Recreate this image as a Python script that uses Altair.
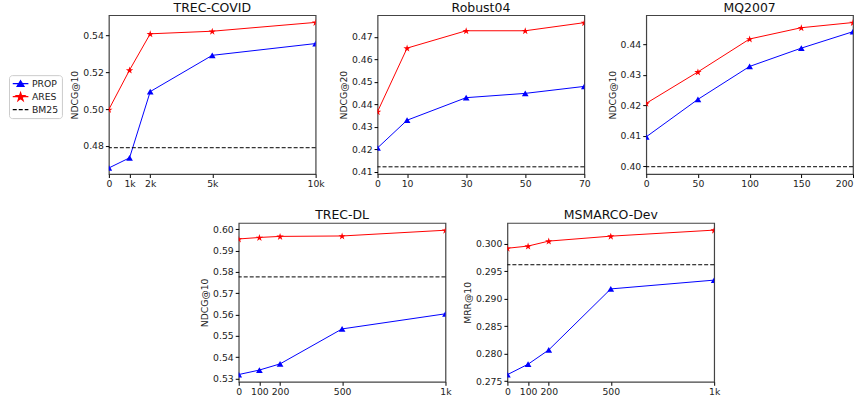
import math
import altair as alt
import pandas as pd

FONT = "DejaVu Sans"
TXT = "#222222"

series_names = ["PROP", "ARES"]
legend_names = ["PROP", "ARES", "BM25"]
series_colors = ["#0000ff", "#ff0000"]
legend_colors = ["#0000ff", "#ff0000", "#000000"]

# ---- TREC-COVID ----
covid_x = [0, 1000, 2000, 5000, 10000]
covid_xlabels = ["0", "1k", "2k", "5k", "10k"]
covid_prop = [0.4680, 0.4735, 0.5095, 0.5292, 0.5356]
covid_ares = [0.4998, 0.5212, 0.5409, 0.5423, 0.5471]
covid_bm25 = 0.4790
covid_yticks = [0.48, 0.50, 0.52, 0.54]
covid_ydomain = [0.4647, 0.5510]

# ---- Robust04 ----
robust_x = [0, 10, 30, 50, 70]
robust_xlabels = ["0", "10", "30", "50", "70"]
robust_prop = [0.4207, 0.4330, 0.4430, 0.4449, 0.4480]
robust_ares = [0.4368, 0.4650, 0.4727, 0.4727, 0.4763]
robust_bm25 = 0.4123
robust_yticks = [0.41, 0.42, 0.43, 0.44, 0.45, 0.46, 0.47]
robust_ydomain = [0.4091, 0.4796]

# ---- MQ2007 ----
mq_x = [0, 50, 100, 150, 200]
mq_xlabels = ["0", "50", "100", "150", "200"]
mq_prop = [0.4096, 0.4219, 0.4327, 0.4387, 0.4441]
mq_ares = [0.4206, 0.4309, 0.4417, 0.4454, 0.4471]
mq_bm25 = 0.3998
mq_yticks = [0.40, 0.41, 0.42, 0.43, 0.44]
mq_ydomain = [0.3974, 0.4495]

# ---- TREC-DL ----
dl_x = [0, 100, 200, 500, 1000]
dl_xlabels = ["0", "100", "200", "500", "1k"]
dl_prop = [0.5318, 0.5339, 0.5368, 0.5532, 0.5603]
dl_ares = [0.5954, 0.5961, 0.5966, 0.5968, 0.5995]
dl_bm25 = 0.5776
dl_yticks = [0.53, 0.54, 0.55, 0.56, 0.57, 0.58, 0.59, 0.60]
dl_ydomain = [0.5284, 0.6029]

# ---- MSMARCO-Dev ----
ms_x = [0, 100, 200, 500, 1000]
ms_xlabels = ["0", "100", "200", "500", "1k"]
ms_prop = [0.2762, 0.2781, 0.2807, 0.2918, 0.2934]
ms_ares = [0.2992, 0.2996, 0.3005, 0.3014, 0.3025]
ms_bm25 = 0.2962
ms_yticks = [0.275, 0.280, 0.285, 0.290, 0.295, 0.300]
ms_ydomain = [0.2749, 0.3038]

W, H = 207, 159


def star_path(cx, cy, R, ratio=0.382):
    pts = []
    for i in range(10):
        ang = -math.pi / 2 + i * math.pi / 5
        r = R if i % 2 == 0 else R * ratio
        pts.append((cx + r * math.cos(ang), cy + r * math.sin(ang)))
    return "M" + "L".join(f"{x:.3f},{y:.3f}" for x, y in pts) + "Z"


STAR = star_path(0, 0.1, 1.0)
LEG_SIZE = 90
LEG_END = 2.3
LEG_CX = (LEG_END - 1) / 2
LEG_PROP = (f"M-1,0H{LEG_END}M{LEG_CX:.3f},-0.63L{LEG_CX-0.74:.3f},0.6"
            f"L{LEG_CX+0.74:.3f},0.6Z")
LEG_ARES = f"M-1,0H{LEG_END}" + star_path(LEG_CX, 0.08, 0.93)
LEG_BM = f"M-1,0H{LEG_END}"


def label_expr(values, labels):
    expr = "''"
    for v, l in zip(reversed(values), reversed(labels)):
        expr = f"datum.value == {v} ? '{l}' : ({expr})"
    return expr


def panel(title, xs, xlabels, prop, ares, bm25, ydomain, yticks, yfmt, ytitle,
          legend=False, flush_last=False):
    n = len(xs)
    df = pd.DataFrame({"x": xs * 2, "v": prop + ares,
                       "s": [series_names[0]] * n + [series_names[1]] * n})
    xaxis_kw = dict(values=xs, labelExpr=label_expr(xs, xlabels), title=None,
                    grid=False, domain=False, tickSize=3.5, tickColor="#000",
                    labelPadding=2, labelFlush=False, labelOverlap=False,
                    labelFont=FONT, labelFontSize=9.3, labelColor=TXT)
    if flush_last:
        xaxis_kw["labelAlign"] = {"condition": {"test": f"datum.value == {xs[-1]}",
                                                "value": "right"},
                                  "value": "center"}
    xenc = alt.X("x:Q",
                 scale=alt.Scale(domain=[xs[0], xs[-1]], nice=False, zero=False),
                 axis=alt.Axis(**xaxis_kw))
    yenc = alt.Y("v:Q",
                 scale=alt.Scale(domain=ydomain, nice=False, zero=False),
                 axis=alt.Axis(values=yticks, format=yfmt, title=ytitle, grid=False,
                               domain=False, tickSize=3.5, tickColor="#000", labelPadding=2,
                               titlePadding=3, labelFont=FONT, labelFontSize=9.3,
                               labelColor=TXT, titleFont=FONT, titleFontSize=9.3,
                               titleFontWeight="normal", titleColor=TXT))
    base = alt.Chart(df)
    lines = base.mark_line(strokeWidth=1, clip=True).encode(
        x=xenc, y=yenc,
        color=alt.Color("s:N", scale=alt.Scale(domain=series_names, range=series_colors),
                        legend=None))
    prop_pts = base.transform_filter(alt.datum.s == series_names[0]).mark_point(
        shape="triangle-up", filled=True, size=45, color=series_colors[0], opacity=1,
        clip=True).encode(x=xenc, y=yenc)
    ares_pts = base.transform_filter(alt.datum.s == series_names[1]).mark_point(
        shape=STAR, filled=True, size=60, color=series_colors[1], opacity=1,
        clip=True).encode(x=xenc, y=yenc)
    bm = alt.Chart(pd.DataFrame({"v": [bm25]})).mark_rule(
        color="black", strokeWidth=1, strokeDash=[4, 2]).encode(y=yenc)
    layers = [lines, prop_pts, ares_pts, bm]
    if legend:
        leg = alt.Legend(title=None, orient="none", legendX=-100, legendY=60,
                         labelFont=FONT, labelFontSize=9.3, labelColor=TXT,
                         symbolSize=LEG_SIZE, symbolStrokeWidth=1.2, labelOffset=9,
                         rowPadding=1, padding=3, strokeColor="#cccccc",
                         fillColor="white", cornerRadius=3)
        leg_layer = alt.Chart(pd.DataFrame({"s": legend_names})).transform_filter(
            "false").mark_point(filled=True, opacity=1, size=LEG_SIZE, strokeWidth=1.2).encode(
            shape=alt.Shape("s:N", scale=alt.Scale(domain=legend_names,
                                                   range=[LEG_PROP, LEG_ARES, LEG_BM]),
                            legend=leg),
            fill=alt.Fill("s:N", scale=alt.Scale(domain=legend_names, range=legend_colors),
                          legend=leg),
            stroke=alt.Stroke("s:N", scale=alt.Scale(domain=legend_names, range=legend_colors),
                              legend=leg),
            strokeDash=alt.StrokeDash("s:N", scale=alt.Scale(domain=legend_names,
                                                             range=[[1, 0], [1, 0], [4, 2]]),
                                      legend=leg),
        )
        layers.append(leg_layer)
    return alt.layer(*layers).properties(
        width=W, height=H,
        title=alt.TitleParams(title, font=FONT, fontSize=12.5, fontWeight="normal",
                              color="#111", offset=1))


p1 = panel("TREC-COVID", covid_x, covid_xlabels, covid_prop, covid_ares, covid_bm25,
           covid_ydomain, covid_yticks, ".2f", "NDCG@10", legend=True)
p2 = panel("Robust04", robust_x, robust_xlabels, robust_prop, robust_ares, robust_bm25,
           robust_ydomain, robust_yticks, ".2f", "NDCG@20")
p3 = panel("MQ2007", mq_x, mq_xlabels, mq_prop, mq_ares, mq_bm25,
           mq_ydomain, mq_yticks, ".2f", "NDCG@10", flush_last=True)
p4 = panel("TREC-DL", dl_x, dl_xlabels, dl_prop, dl_ares, dl_bm25,
           dl_ydomain, dl_yticks, ".2f", "NDCG@10")
p5 = panel("MSMARCO-Dev", ms_x, ms_xlabels, ms_prop, ms_ares, ms_bm25,
           ms_ydomain, ms_yticks, ".3f", "MRR@10")

spacer = alt.Chart(pd.DataFrame({"s": legend_names})).transform_filter("false").mark_point().encode(
    x=alt.value(0), y=alt.value(0)).properties(
    width=68, height=H, view=alt.ViewBackground(strokeOpacity=0))

top = alt.hconcat(p1, p2, p3, spacing=62, bounds="flush")
bottom = alt.hconcat(spacer, p4, p5, spacing=62, bounds="flush")

chart = alt.vconcat(top, bottom, spacing=18).properties(
    padding={"left": 8, "top": 0, "right": 0, "bottom": 0},
    background="white",
).configure_view(
    stroke="#444444", strokeWidth=1.2
).configure_title(
    font=FONT, fontSize=12.5, fontWeight="normal", color="#111"
)

chart.save("out.html", embed_options={"renderer": "svg", "actions": False})
